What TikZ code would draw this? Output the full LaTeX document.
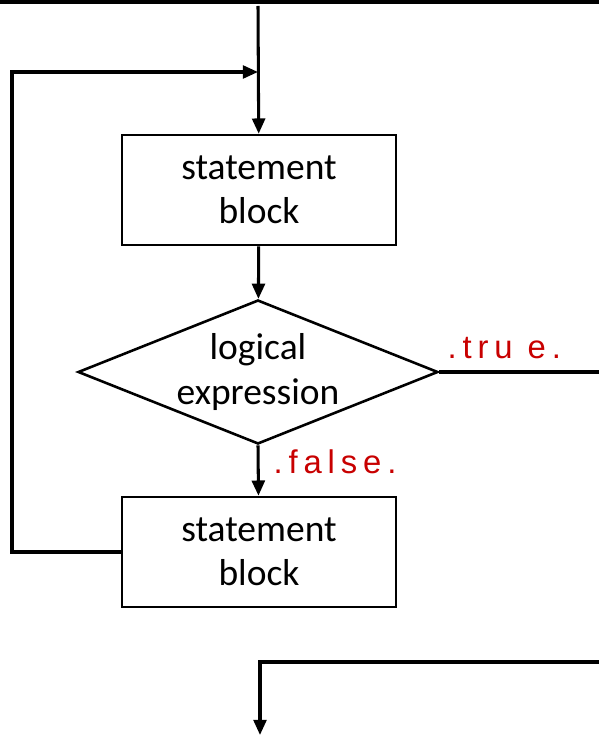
\documentclass[tikz,border=0pt]{standalone}
\usepackage{fontspec}
\setmainfont{Carlito}
\newfontfamily\labelfont[LetterSpace=18]{Liberation Sans}
\usetikzlibrary{arrows.meta, positioning, shapes.geometric}

\definecolor{labelred}{RGB}{200,0,0}

\begin{document}
\begin{tikzpicture}[x=0.03cm, y=-0.03cm,
  line width=2.6pt,
  block/.style={draw, rectangle, line width=2.2pt, minimum width=8.22cm, minimum height=3.3cm, align=center, font=\fontsize{32}{38}\selectfont},
  decision/.style={draw, diamond, shape aspect=2.5, line width=2.2pt, inner sep=0pt, minimum width=10.8cm, minimum height=4.32cm, align=center, font=\fontsize{32}{38}\selectfont},
  arrow/.style={-{Triangle[length=13pt, width=11pt]}},
  answer/.style={text=labelred, font=\labelfont\fontsize{28}{32}\selectfont}
]
\useasboundingbox (0,0) rectangle (599,735);

% top rule
\coordinate (ruleL) at (0,2);
\coordinate (ruleR) at (599,2);
\draw[line width=3.5pt] (ruleL) -- (ruleR);

% nodes
\node[block] (stmt_top) at (259,190) {statement\\block};
\node[decision] (cond) at (258,372) {logical\\expression};
\node[block] (stmt_bot) at (259,552) {statement\\block};

% entry and loop
\coordinate (entry) at (258,6);
\coordinate (merge) at (258,72);
\coordinate (loop_corner) at (12,72);
\draw[arrow] (entry) -- (stmt_top);
\draw[arrow] (stmt_bot.west) -| (loop_corner) -- (merge);
\draw[arrow] (stmt_top) -- (cond);

% branches
\coordinate (exit_true) at (599,372);
\draw (cond.east) -- (exit_true);
\node[answer, anchor=base west, inner sep=0pt] (true_lbl) at (446,358) {.tru e.};
\draw[arrow] (cond.south) -- (stmt_bot);
\node[answer, anchor=base west, inner sep=0pt] (false_lbl) at (272,473) {.false.};

% exit
\coordinate (exit_in) at (599,662);
\coordinate (exit_corner) at (260,662);
\coordinate (exit_out) at (260,735);
\draw[arrow] (exit_in) -- (exit_corner) -- (exit_out);
\end{tikzpicture}
\end{document}
